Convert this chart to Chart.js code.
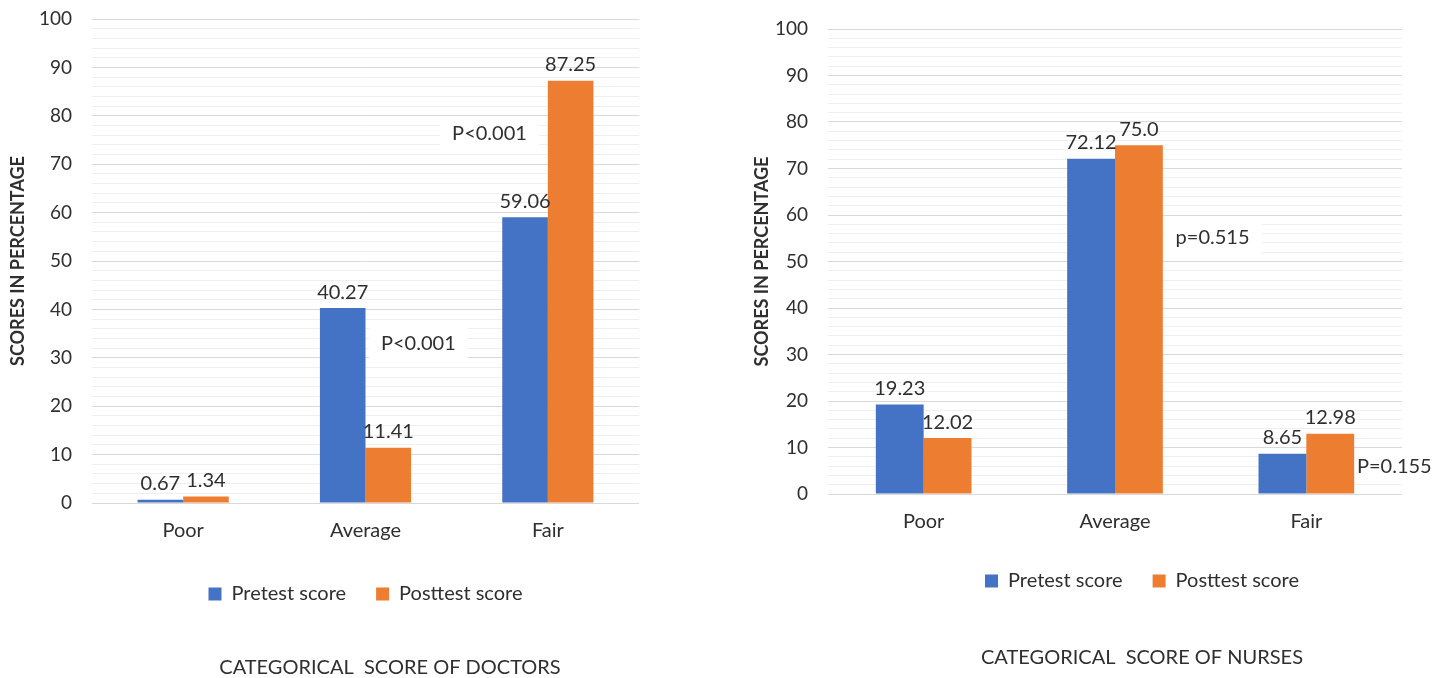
<!DOCTYPE html>
<html>
<head>
<meta charset="utf-8">
<script src="https://cdn.jsdelivr.net/npm/chart.js@4/dist/chart.umd.min.js"></script>
<style>
  html, body { margin: 0; padding: 0; background: #ffffff; }
  #stage { position: relative; width: 1452px; height: 678px; overflow: hidden; background: #ffffff; }
  .box { position: absolute; top: 0; height: 678px; }
  #boxDoctors { left: 0; width: 780px; }
  #boxNurses { left: 744px; width: 796px; }
</style>
</head>
<body>
<div id="stage">
  <div class="box" id="boxDoctors"><canvas id="doctors"></canvas></div>
  <div class="box" id="boxNurses"><canvas id="nurses"></canvas></div>
</div>
<script>
// Categories and series
const categories = ['Poor', 'Average', 'Fair'];
const seriesNames = ['Pretest score', 'Posttest score'];

const doctorsPretest = [0.67, 40.27, 59.06];
const doctorsPosttest = [1.34, 11.41, 87.25];

const nursesPretest = [19.23, 72.12, 8.65];
const nursesPosttest = [12.02, 75.0, 12.98];

// Significance notes: text, position on the category axis, position on the value axis
const doctorsNotes = [
  { text: 'P<0.001', x: 1.68, y: 76.4 },
  { text: 'P<0.001', x: 1.29, y: 33.0 }
];
const nursesNotes = [
  { text: 'p=0.515', x: 1.51, y: 55.2 },
  { text: 'P=0.155', x: 2.46, y: 5.8 }
];

const chartTitles = ['CATEGORICAL  SCORE OF DOCTORS', 'CATEGORICAL  SCORE OF NURSES'];
const yAxisTitle = 'SCORES IN PERCENTAGE';
const yMin = 0, yMax = 100, yStep = 2, yLabelEvery = 10;

const BLUE = '#4472C4';
const ORANGE = '#ED7D31';
const TEXT = '#2f2f2f';
const FONT = 'Lato, "Open Sans", sans-serif';

function fmt(v) {
  return Number.isInteger(v) ? v.toFixed(1) : String(v);
}

// Value labels above each bar
const valueLabels = {
  id: 'valueLabels',
  afterDatasetsDraw(chart) {
    const ctx = chart.ctx;
    ctx.save();
    ctx.font = '20px ' + FONT;
    ctx.fillStyle = TEXT;
    ctx.textAlign = 'center';
    ctx.textBaseline = 'bottom';
    chart.data.datasets.forEach((ds, di) => {
      const meta = chart.getDatasetMeta(di);
      meta.data.forEach((bar, i) => {
        ctx.fillText(fmt(ds.data[i]), bar.x, bar.y - 6);
      });
    });
    ctx.restore();
  }
};

// Boxed p-value notes: white backing under the bars, text on top
function noteGeometry(chart, n) {
  const ctx = chart.ctx;
  const px = chart.scales.x.getPixelForValue(n.x);
  const py = chart.scales.y.getPixelForValue(n.y);
  const w = ctx.measureText(n.text).width;
  return { px, py, w };
}
const notes = {
  id: 'notes',
  beforeDatasetsDraw(chart, args, opts) {
    const ctx = chart.ctx;
    ctx.save();
    ctx.font = '20px ' + FONT;
    ctx.fillStyle = '#ffffff';
    (opts.items || []).forEach(n => {
      const g = noteGeometry(chart, n);
      ctx.fillRect(g.px - g.w / 2 - 12, g.py - 17, g.w + 24, 34);
    });
    ctx.restore();
  },
  afterDatasetsDraw(chart, args, opts) {
    const ctx = chart.ctx;
    ctx.save();
    ctx.font = '20px ' + FONT;
    ctx.textAlign = 'center';
    ctx.textBaseline = 'middle';
    ctx.fillStyle = TEXT;
    (opts.items || []).forEach(n => {
      const g = noteGeometry(chart, n);
      ctx.fillText(n.text, g.px, g.py);
    });
    ctx.restore();
  }
};

function makeChart(id, pre, post, noteItems, title, cfg) {
  return new Chart(document.getElementById(id), {
    type: 'bar',
    data: {
      labels: categories,
      datasets: [
        { label: seriesNames[0], data: pre, backgroundColor: BLUE, borderWidth: 0 },
        { label: seriesNames[1], data: post, backgroundColor: ORANGE, borderWidth: 0 }
      ]
    },
    options: {
      responsive: true,
      maintainAspectRatio: false,
      animation: false,
      datasets: { bar: { categoryPercentage: 0.5, barPercentage: 1.0 } },
      layout: { padding: { left: 0, top: cfg.top, right: 0, bottom: 0 } },
      scales: {
        x: {
          grid: { display: false, drawTicks: false },
          border: { display: false },
          ticks: { color: TEXT, font: { family: FONT, size: 20 }, padding: 16 },
          afterFit(s) { s.height = cfg.xHeight; }
        },
        y: {
          min: yMin, max: yMax,
          border: { display: false },
          grid: {
            drawTicks: false,
            color: c => (c.tick.value % yLabelEvery === 0 ? '#d9d9d9' : '#efefef'),
            lineWidth: 1
          },
          ticks: {
            stepSize: yStep,
            autoSkip: false,
            color: TEXT,
            font: { family: FONT, size: 19 },
            padding: 20,
            callback: v => (v % yLabelEvery === 0 ? String(v) : '')
          },
          title: {
            display: true,
            text: yAxisTitle,
            color: TEXT,
            font: { family: FONT, size: 18, weight: 'bold' },
            padding: { top: 7, bottom: 0 }
          },
          afterFit(s) {
            s.width = cfg.yWidth;
            s.paddingTop = 0;
            s.paddingBottom = 0;
          }
        },
        // empty right-hand margin so the bottom title can centre on the whole panel
        margin: {
          type: 'linear',
          position: 'right',
          display: true,
          grid: { display: false, drawTicks: false },
          border: { display: false },
          ticks: { display: false },
          afterFit(s) {
            s.width = cfg.rightGap;
            s.paddingTop = 0;
            s.paddingBottom = 0;
          }
        }
      },
      plugins: {
        legend: {
          position: 'bottom',
          fullSize: cfg.legendFull,
          labels: {
            color: TEXT,
            font: { family: FONT, size: 20 },
            boxWidth: 13, boxHeight: 13,
            padding: 30
          }
        },
        title: {
          display: true,
          position: 'bottom',
          text: title,
          color: TEXT,
          font: { family: FONT, size: 20, weight: 'normal', lineHeight: 1 },
          padding: cfg.titlePad
        },
        tooltip: { enabled: false },
        notes: { items: noteItems }
      }
    },
    plugins: [valueLabels, notes]
  });
}

makeChart('doctors', doctorsPretest, doctorsPosttest, doctorsNotes, chartTitles[0], {
  top: 19, rightGap: 141,
  xHeight: 51, yWidth: 92, legendFull: false,
  titlePad: { top: 44, bottom: 0 }
});

makeChart('nurses', nursesPretest, nursesPosttest, nursesNotes, chartTitles[1], {
  top: 29, rightGap: 138,
  xHeight: 47, yWidth: 84, legendFull: true,
  titlePad: { top: 47, bottom: 10 }
});
</script>
</body>
</html>
